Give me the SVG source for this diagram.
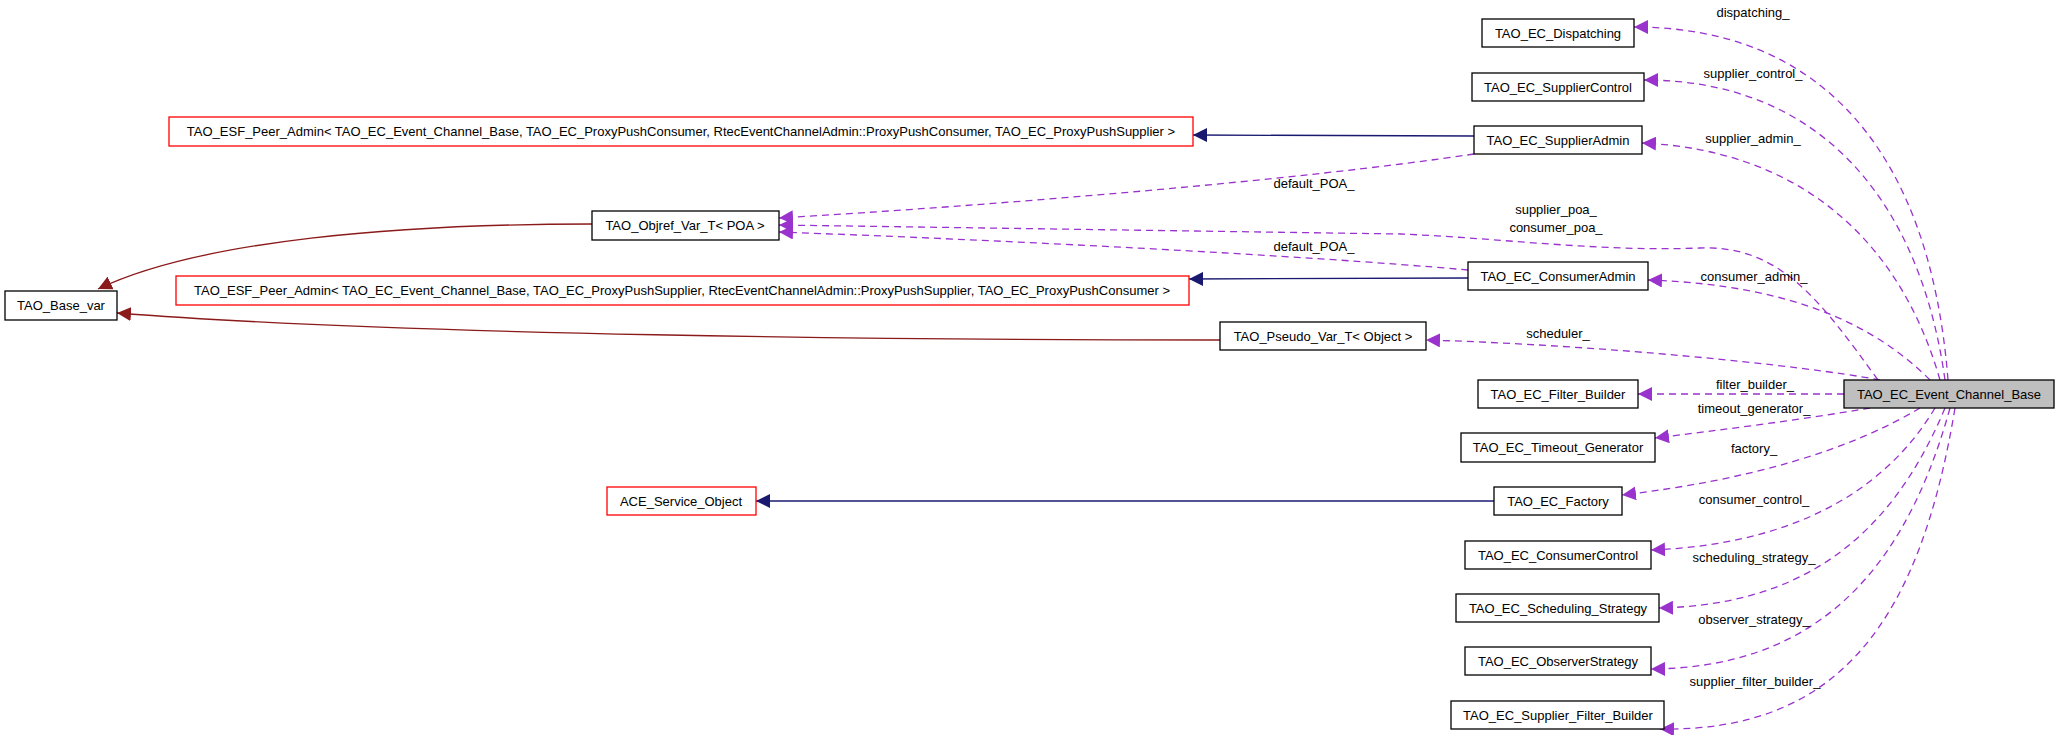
<svg xmlns="http://www.w3.org/2000/svg" width="2056" height="735" viewBox="0 0 2056 735">
<style>
text{font-family:"Liberation Sans",Arial,sans-serif;font-size:13px;fill:#000;text-anchor:middle}
.n{fill:#fff;stroke:#000;stroke-width:1.3}
.r{fill:#fff;stroke:#ff0000;stroke-width:1.3}
.g{fill:#bfbfbf;stroke:#000;stroke-width:1.3}
.p{fill:none;stroke:#9a32cd;stroke-width:1.3;stroke-dasharray:7,5}
.b{fill:none;stroke:#191970;stroke-width:1.3}
.d{fill:none;stroke:#8b1a1a;stroke-width:1.3}
</style>
<defs>
<marker id="mp" viewBox="0 0 10 10" refX="10" refY="5" markerWidth="14" markerHeight="14" markerUnits="userSpaceOnUse" orient="auto"><path d="M0,0L10,5L0,10z" fill="#9a32cd"/></marker>
<marker id="mb" viewBox="0 0 10 10" refX="10" refY="5" markerWidth="14" markerHeight="14" markerUnits="userSpaceOnUse" orient="auto"><path d="M0,0L10,5L0,10z" fill="#191970"/></marker>
<marker id="md" viewBox="0 0 10 10" refX="10" refY="5" markerWidth="14" markerHeight="14" markerUnits="userSpaceOnUse" orient="auto"><path d="M0,0L10,5L0,10z" fill="#8b1a1a"/></marker>
</defs>
<g id="edges">
<path class="p" marker-end="url(#mp)" d="M1948,380 C1930,150 1820,27 1634,27"/>
<path class="p" marker-end="url(#mp)" d="M1945,380 C1920,200 1820,80 1644,80"/>
<path class="p" marker-end="url(#mp)" d="M1940,380 C1900,240 1800,150 1642,143"/>
<path class="p" marker-end="url(#mp)" d="M1878,380 C1820,300 1780,245 1700,248 C1600,252 1500,238 1400,234 L779,225"/>
<path class="p" marker-end="url(#mp)" d="M1474,154 C1300,180 1000,205 779,218"/>
<path class="p" marker-end="url(#mp)" d="M1468,270 C1300,255 1000,240 779,232"/>
<path class="p" marker-end="url(#mp)" d="M1930,380 C1880,330 1800,285 1648,280"/>
<path class="p" marker-end="url(#mp)" d="M1880,380 C1800,365 1600,345 1426,340"/>
<path class="p" marker-end="url(#mp)" d="M1844,394 L1638,394"/>
<path class="p" marker-end="url(#mp)" d="M1870,408 C1800,420 1720,430 1655,438"/>
<path class="p" marker-end="url(#mp)" d="M1920,408 C1850,450 1750,480 1622,495"/>
<path class="p" marker-end="url(#mp)" d="M1935,408 C1880,500 1780,545 1651,550"/>
<path class="p" marker-end="url(#mp)" d="M1945,408 C1890,540 1800,605 1659,608"/>
<path class="p" marker-end="url(#mp)" d="M1950,408 C1900,590 1800,668 1651,669"/>
<path class="p" marker-end="url(#mp)" d="M1955,408 C1920,620 1840,732 1660,729"/>
<path class="b" marker-end="url(#mb)" d="M1474,136 L1193,135"/>
<path class="b" marker-end="url(#mb)" d="M1468,278 L1189,279"/>
<path class="b" marker-end="url(#mb)" d="M1494,501 L756,501"/>
<path class="d" marker-end="url(#md)" d="M592,224 C400,224 200,240 98,289"/>
<path class="d" marker-end="url(#md)" d="M1220,340 C900,340 400,335 117,313"/>
</g>
<g id="labels">
<text x="1753" y="17">dispatching_</text>
<text x="1753" y="78">supplier_control_</text>
<text x="1753" y="143">supplier_admin_</text>
<text x="1556" y="214">supplier_poa_</text>
<text x="1556" y="232">consumer_poa_</text>
<text x="1314" y="188">default_POA_</text>
<text x="1314" y="251">default_POA_</text>
<text x="1754" y="281">consumer_admin_</text>
<text x="1558" y="338">scheduler_</text>
<text x="1755" y="389">filter_builder_</text>
<text x="1754" y="413">timeout_generator_</text>
<text x="1754" y="453">factory_</text>
<text x="1754" y="504">consumer_control_</text>
<text x="1754" y="562">scheduling_strategy_</text>
<text x="1754" y="624">observer_strategy_</text>
<text x="1755" y="686">supplier_filter_builder_</text>
</g>
<g id="n1"><rect class="n" x="1482" y="19" width="152" height="28"/><text x="1558" y="38">TAO_EC_Dispatching</text></g>
<g id="n2"><rect class="n" x="1472" y="73" width="172" height="28"/><text x="1558" y="92">TAO_EC_SupplierControl</text></g>
<g id="n3"><rect class="n" x="1474" y="126" width="168" height="28"/><text x="1558" y="145">TAO_EC_SupplierAdmin</text></g>
<g id="n4"><rect class="n" x="1468" y="262" width="180" height="28"/><text x="1558" y="281">TAO_EC_ConsumerAdmin</text></g>
<g id="n5"><rect class="g" x="1844" y="380" width="210" height="28"/><text x="1949" y="399">TAO_EC_Event_Channel_Base</text></g>
<g id="n6"><rect class="n" x="1478" y="380" width="160" height="28"/><text x="1558" y="399">TAO_EC_Filter_Builder</text></g>
<g id="n7"><rect class="n" x="1461" y="433" width="194" height="29"/><text x="1558" y="452">TAO_EC_Timeout_Generator</text></g>
<g id="n8"><rect class="n" x="1494" y="487" width="128" height="28"/><text x="1558" y="506">TAO_EC_Factory</text></g>
<g id="n9"><rect class="n" x="1465" y="541" width="186" height="28"/><text x="1558" y="560">TAO_EC_ConsumerControl</text></g>
<g id="n10"><rect class="n" x="1456" y="594" width="203" height="28"/><text x="1558" y="613">TAO_EC_Scheduling_Strategy</text></g>
<g id="n11"><rect class="n" x="1465" y="647" width="186" height="28"/><text x="1558" y="666">TAO_EC_ObserverStrategy</text></g>
<g id="n12"><rect class="n" x="1451" y="701" width="213" height="28"/><text x="1558" y="720">TAO_EC_Supplier_Filter_Builder</text></g>
<g id="n13"><rect class="r" x="169" y="117" width="1024" height="29"/><text x="681" y="136">TAO_ESF_Peer_Admin&lt; TAO_EC_Event_Channel_Base, TAO_EC_ProxyPushConsumer, RtecEventChannelAdmin::ProxyPushConsumer, TAO_EC_ProxyPushSupplier &gt;</text></g>
<g id="n14"><rect class="n" x="592" y="211" width="187" height="29"/><text x="685" y="230">TAO_Objref_Var_T&lt; POA &gt;</text></g>
<g id="n15"><rect class="r" x="176" y="276" width="1013" height="29"/><text x="682" y="295">TAO_ESF_Peer_Admin&lt; TAO_EC_Event_Channel_Base, TAO_EC_ProxyPushSupplier, RtecEventChannelAdmin::ProxyPushSupplier, TAO_EC_ProxyPushConsumer &gt;</text></g>
<g id="n16"><rect class="n" x="5" y="291" width="112" height="29"/><text x="61" y="310">TAO_Base_var</text></g>
<g id="n17"><rect class="n" x="1220" y="322" width="206" height="28"/><text x="1323" y="341">TAO_Pseudo_Var_T&lt; Object &gt;</text></g>
<g id="n18"><rect class="r" x="607" y="487" width="149" height="28"/><text x="681" y="506">ACE_Service_Object</text></g>
</svg>
